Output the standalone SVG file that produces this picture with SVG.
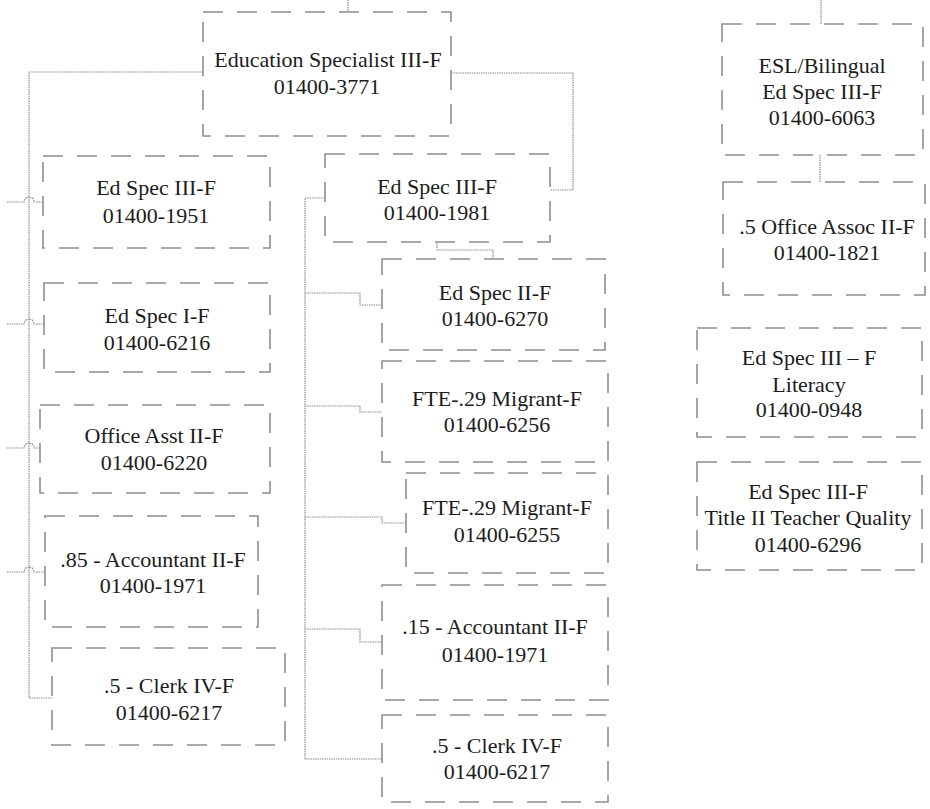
<svg xmlns="http://www.w3.org/2000/svg" width="930" height="809" viewBox="0 0 930 809">
  <style>
    .box { fill: none; stroke: #8e8e8e; stroke-width: 1.6; stroke-dasharray: 20 14; }
    .conn { fill: none; stroke: #8e8e8e; stroke-width: 1.2; stroke-dasharray: 1.5 0.8; }
    text { font-family: "Liberation Serif", "Times New Roman", serif; font-size: 22px; fill: #1c1c1c; text-anchor: middle; }
  </style>
  <rect width="930" height="809" fill="#ffffff"/>

  <!-- connectors -->
  <g id="connectors">
    <path class="conn" d="M348 0 V12"/>
    <path class="conn" d="M821 0 V24"/>
    <path class="conn" d="M203 72 H29 V698 H52"/>
    <path class="conn" d="M7 202 H24 A5 5 0 0 1 34 202 H43"/>
    <path class="conn" d="M7 324 H24 A5 5 0 0 1 34 324 H44"/>
    <path class="conn" d="M7 448 H24 A5 5 0 0 1 34 448 H40"/>
    <path class="conn" d="M7 572 H24 A5 5 0 0 1 34 572 H45"/>
    <path class="conn" d="M451 73 H573 V190 H550"/>
    <path class="conn" d="M325 198 H305 V759 H382"/>
    <path class="conn" d="M305 293 H360 V305 H382"/>
    <path class="conn" d="M305 406 H360 V412 H382"/>
    <path class="conn" d="M305 517 H382 V523 H406"/>
    <path class="conn" d="M305 629 H360 V642 H382"/>
    <path class="conn" d="M437 242 V250 H493 V259"/>
    <path class="conn" d="M820 155 V182"/>
  </g>

  <!-- head of unit -->
  <g id="n3771">
    <rect class="box" x="203" y="12" width="248" height="124"/>
    <text x="328" y="67">Education Specialist III-F</text>
    <text x="327" y="94">01400-3771</text>
  </g>

  <!-- left column -->
  <g id="n1951">
    <rect class="box" x="43" y="156" width="227" height="92"/>
    <text x="156" y="195">Ed Spec III-F</text>
    <text x="156" y="223">01400-1951</text>
  </g>
  <g id="n6216">
    <rect class="box" x="44" y="283" width="226" height="89"/>
    <text x="157" y="323">Ed Spec I-F</text>
    <text x="157" y="350">01400-6216</text>
  </g>
  <g id="n6220">
    <rect class="box" x="40" y="405" width="230" height="88"/>
    <text x="154" y="443">Office Asst II-F</text>
    <text x="154" y="470">01400-6220</text>
  </g>
  <g id="n1971a">
    <rect class="box" x="45" y="516" width="213" height="111"/>
    <text x="153" y="567">.85 - Accountant II-F</text>
    <text x="153" y="593">01400-1971</text>
  </g>
  <g id="n6217a">
    <rect class="box" x="52" y="648" width="233" height="97"/>
    <text x="169" y="693">.5 - Clerk IV-F</text>
    <text x="169" y="720">01400-6217</text>
  </g>

  <!-- middle column -->
  <g id="n1981">
    <rect class="box" x="325" y="154" width="225" height="88"/>
    <text x="437" y="194">Ed Spec III-F</text>
    <text x="437" y="220">01400-1981</text>
  </g>
  <g id="n6270">
    <rect class="box" x="382" y="259" width="223" height="91"/>
    <text x="495" y="300">Ed Spec II-F</text>
    <text x="495" y="326">01400-6270</text>
  </g>
  <g id="n6256">
    <rect class="box" x="382" y="361" width="226" height="101"/>
    <text x="497" y="406">FTE-.29 Migrant-F</text>
    <text x="497" y="432">01400-6256</text>
  </g>
  <g id="n6255">
    <rect class="box" x="406" y="473" width="202" height="100"/>
    <text x="507" y="515">FTE-.29 Migrant-F</text>
    <text x="507" y="542">01400-6255</text>
  </g>
  <g id="n1971b">
    <rect class="box" x="382" y="585" width="226" height="115"/>
    <text x="495" y="634">.15 - Accountant II-F</text>
    <text x="495" y="662">01400-1971</text>
  </g>
  <g id="n6217b">
    <rect class="box" x="382" y="715" width="226" height="87"/>
    <text x="497" y="753">.5 - Clerk IV-F</text>
    <text x="497" y="779">01400-6217</text>
  </g>

  <!-- right column -->
  <g id="n6063">
    <rect class="box" x="722" y="24" width="201" height="131"/>
    <text x="822" y="73">ESL/Bilingual</text>
    <text x="822" y="99">Ed Spec III-F</text>
    <text x="822" y="125">01400-6063</text>
  </g>
  <g id="n1821">
    <rect class="box" x="723" y="182" width="202" height="113"/>
    <text x="827" y="234">.5 Office Assoc II-F</text>
    <text x="827" y="260">01400-1821</text>
  </g>
  <g id="n0948">
    <rect class="box" x="697" y="328" width="225" height="109"/>
    <text x="809" y="365">Ed Spec III – F</text>
    <text x="809" y="392">Literacy</text>
    <text x="809" y="417">01400-0948</text>
  </g>
  <g id="n6296">
    <rect class="box" x="697" y="462" width="225" height="108"/>
    <text x="808" y="499">Ed Spec III-F</text>
    <text x="808" y="525">Title II Teacher Quality</text>
    <text x="808" y="552">01400-6296</text>
  </g>
</svg>
